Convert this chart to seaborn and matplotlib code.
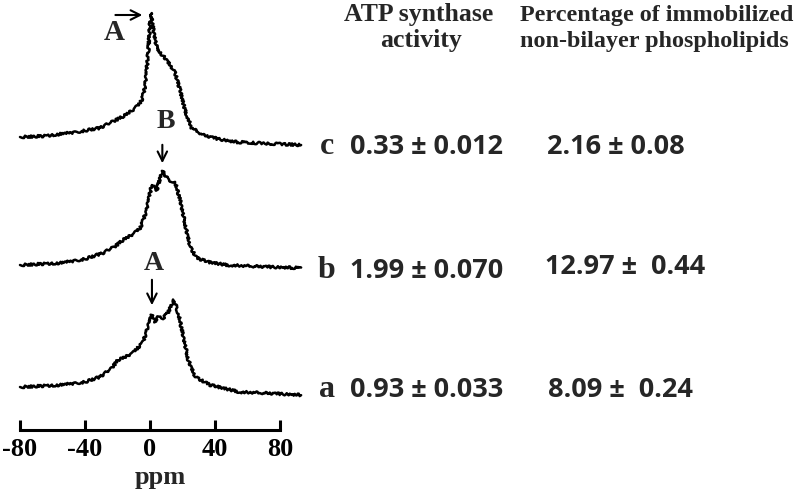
import matplotlib
matplotlib.use('Agg')
import matplotlib.pyplot as plt
import seaborn as sns
import numpy as np
import pandas as pd

# 31P NMR traces (ppm, intensity above baseline)
ppm_c = [-80, -65, -45, -31, -24.6, -16, -10.4, -7, -5.1, -3.5, -2.5, -1.0, 0.4,
         2.1, 4.1, 7, 10.3, 15.4, 18.5, 21.5, 25.6, 32.8, 42, 53, 65, 80, 93]
int_c = [3, 4, 8, 12, 17, 24, 30, 35, 40, 50, 60, 90, 127,
         110, 93, 86, 80, 67, 50, 30, 12, 5, 1, -2, -3, -4, -5]

ppm_b = [-80, -55, -40, -29, -22, -16.6, -10, -6, -2, 1, 4.1, 7.6,
         11.3, 15.4, 18.5, 21.5, 24.6, 28.7, 36, 47, 60, 75, 93]
int_b = [0, 2, 6, 12, 18, 25, 31, 37, 55, 80, 75, 94,
         85, 83, 65, 42, 18, 7, 3, 0, -1, -2, -3]

ppm_a = [-80, -55, -40, -31, -24, -19.7, -15, -10.4, -4.3, -1.2, 1, 3.1, 5.1, 8.2,
         11.3, 14.8, 17.4, 20.5, 23.6, 27.7, 37, 55, 70, 93]
int_a = [0, 2, 5, 10, 18, 27, 30, 34, 45, 60, 72, 65, 70, 69,
         75, 87, 74, 50, 27, 10, 2, -5, -6, -8]

trace_labels = ["c", "b", "a"]
atp_activity = ["0.33 \u00b1 0.012", "1.99 \u00b1 0.070", "0.93 \u00b1 0.033"]
immobilized = ["2.16 \u00b1 0.08", "12.97 \u00b1  0.44", "8.09 \u00b1  0.24"]
x_ticks = [-80, -40, 0, 40, 80]

W, H = 800, 494
offsets = [290, 165, 43]   # vertical stacking of the traces (pixel units)

sns.set_theme(style="white")
serif = "Liberation Serif"
sans = "Open Sans"

fig = plt.figure(figsize=(8, 4.94), dpi=100)
ax = fig.add_axes([10 / W, 64 / H, 300 / W, 430 / H])

frames = []
for name, xs, ys, off in zip(trace_labels, [ppm_c, ppm_b, ppm_a],
                             [int_c, int_b, int_a], offsets):
    frames.append(pd.DataFrame({"ppm": xs, "y": np.array(ys) + off, "trace": name}))
df = pd.concat(frames, ignore_index=True)

sns.lineplot(data=df, x="ppm", y="y", units="trace", estimator=None, sort=False,
             color="black", lw=1.8, ax=ax)
for line in ax.lines:
    line.set_sketch_params(scale=1.2, length=3, randomness=6)

ax.set_xlim(-86.15, 98.46)
ax.set_ylim(0, 430)
for s in ["top", "right", "left"]:
    ax.spines[s].set_visible(False)
ax.spines["bottom"].set_bounds(-80, 80)
ax.spines["bottom"].set_linewidth(2.2)
ax.spines["bottom"].set_color("black")
ax.set_xticks(x_ticks)
ax.set_xticklabels([str(t) for t in x_ticks], fontfamily=serif,
                   fontweight="bold", fontsize=19)
ax.tick_params(axis="x", direction="in", length=7, width=2.2, pad=6,
               colors="black", bottom=True)
ax.set_yticks([])
ax.set_xlabel("ppm", fontfamily=serif, fontweight="bold", fontsize=19, labelpad=3)
ax.set_ylabel("")

# peak markers
arrow_kw = dict(arrowstyle="->", color="black", lw=1.5, mutation_scale=17)
ax.annotate("", xy=(-3, 415), xytext=(-23, 415), arrowprops=arrow_kw)
ax.text(-22, 397, "A", fontfamily=serif, fontweight="bold", fontsize=21,
        ha="center", va="center")
ax.text(9.8, 309, "B", fontfamily=serif, fontweight="bold", fontsize=20,
        ha="center", va="center")
ax.annotate("", xy=(7.6, 264), xytext=(7.6, 288), arrowprops=arrow_kw)
ax.text(2.5, 167, "A", fontfamily=serif, fontweight="bold", fontsize=20,
        ha="center", va="center")
ax.annotate("", xy=(1.2, 122), xytext=(1.2, 153), arrowprops=arrow_kw)

# table on the right
def fx(px):
    return px / W

def fy(py):
    return 1 - py / H

fig.text(fx(419), fy(15), "ATP synthase", fontfamily=serif, fontweight="bold",
         fontsize=18.5, ha="center", va="center")
fig.text(fx(421), fy(41), "activity", fontfamily=serif, fontweight="bold",
         fontsize=18.5, ha="center", va="center")
fig.text(fx(520), fy(15), "Percentage of immobilized", fontfamily=serif,
         fontweight="bold", fontsize=17.4, ha="left", va="center")
fig.text(fx(520), fy(42), "non-bilayer phospholipids", fontfamily=serif,
         fontweight="bold", fontsize=17.4, ha="left", va="center")

row_y = [146, 270, 389]
val2_y = [146, 266, 389]
val2_x = [547, 545, 548]
for lab, v1, v2, ry, vy, vx in zip(trace_labels, atp_activity, immobilized,
                                   row_y, val2_y, val2_x):
    fig.text(fx(327), fy(ry), lab, fontfamily=serif, fontweight="bold",
             fontsize=23, ha="center", va="center")
    fig.text(fx(350), fy(ry + 1), v1, fontfamily=sans, fontweight="bold",
             fontsize=19.5, ha="left", va="center")
    fig.text(fx(vx), fy(vy + 1), v2, fontfamily=sans, fontweight="bold",
             fontsize=19.5, ha="left", va="center")

fig.savefig("out.png", dpi=100, facecolor="white")
